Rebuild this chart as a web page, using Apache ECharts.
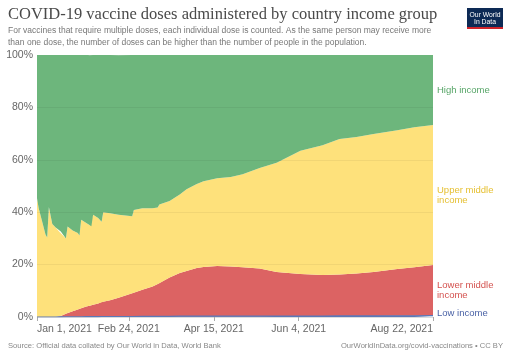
<!DOCTYPE html>
<html><head><meta charset="utf-8">
<script src="https://cdn.jsdelivr.net/npm/echarts@6/dist/echarts.min.js"></script>
<style>html,body{margin:0;padding:0;background:#fff}#c{width:512px;height:361px}</style>
</head><body><div id="c"></div>
<script>
// Sample dates
const dates = ['2021-01-01','2021-01-02','2021-01-06','2021-01-07','2021-01-08','2021-01-10','2021-01-12','2021-01-14','2021-01-15','2021-01-18','2021-01-19','2021-01-22','2021-01-25','2021-01-26','2021-01-27','2021-01-30','2021-02-01','2021-02-02','2021-02-03','2021-02-06','2021-02-08','2021-02-09','2021-02-13','2021-02-18','2021-02-26','2021-02-27','2021-03-04','2021-03-10','2021-03-13','2021-03-14','2021-03-20','2021-03-26','2021-03-30','2021-04-05','2021-04-09','2021-04-17','2021-04-25','2021-05-02','2021-05-12','2021-05-22','2021-06-05','2021-06-18','2021-06-28','2021-07-08','2021-07-18','2021-08-01','2021-08-11','2021-08-22'];
// Shares of doses administered (%)
const lowIncome = [0,0,0,0,0,0,0,0.05,0.05,0.1,0.1,0.1,0.1,0.1,0.1,0.15,0.15,0.15,0.15,0.15,0.2,0.2,0.2,0.2,0.2,0.2,0.25,0.25,0.25,0.25,0.25,0.3,0.3,0.3,0.3,0.3,0.3,0.3,0.3,0.35,0.35,0.35,0.4,0.4,0.4,0.45,0.45,0.5];
const lowerMiddle = [0,0,0,0,0,0,0,0,0.3,1.1,1.4,2.1,2.8,3.0,3.2,3.85,4.15,4.35,4.55,5.05,5.5,5.6,6.2,7.1,8.9,9.1,10.15,11.35,12.35,12.65,14.8,16.5,17.3,18.4,18.8,19.2,19.0,18.7,18.2,16.85,16.05,15.65,15.8,16.2,16.8,17.85,18.55,19.3];
const upperMiddle = [45.3,41.5,31.5,30.3,42,35.5,34.2,32.55,32.3,28.8,33,30.8,29.2,28.0,33.8,31.85,30.7,30.1,34.3,32.55,30.7,34.2,33.2,31.7,29.4,31.5,31.1,29.9,29.2,30.05,29.2,30.0,31.2,32.1,32.7,33.5,34.1,35.5,38.4,41.7,47.1,49.6,51.7,52.1,52.6,53.0,53.4,53.5];
const highIncome = [54.7,58.5,68.5,69.7,58,64.5,65.8,67.4,67.35,70,65.5,67,67.9,68.9,62.9,64.2,64.95,65.4,61,62.25,63.6,60,60.4,60.9,61.5,59.2,58.5,58.5,58.2,57,55.75,53.2,51.2,49.2,48.2,47,46.6,45.5,43.1,41.1,36.5,34.4,32.1,31.3,30.2,28.7,27.6,26.7];
const seriesNames = ['Low income','Lower middle income','Upper middle income','High income'];
const bandLabels = [['Low income'],['Lower middle','income'],['Upper middle','income'],['High income']];
const tickDates = ['2021-01-01','2021-02-24','2021-04-15','2021-06-04','2021-08-22'];
const tickLabels = ['Jan 1, 2021','Feb 24, 2021','Apr 15, 2021','Jun 4, 2021','Aug 22, 2021'];
const gridValues = [20,40,60,80];

const fillColors = ['#5b78b8','#dc6363','#fee17b','#6db67c'];
const textColors = ['#4a62a6','#d4524f','#e6c032','#56a567'];

const dayOf = s => (Date.UTC(+s.slice(0,4), +s.slice(5,7)-1, +s.slice(8,10)) - Date.UTC(2021,0,1)) / 86400000;
const xs = dates.map(dayOf);
const tickDays = tickDates.map(dayOf);
const allVals = [lowIncome, lowerMiddle, upperMiddle, highIncome];

const chart = echarts.init(document.getElementById('c'), null, {renderer:'canvas'});
const F = 'Arial, "Liberation Sans", Helvetica, sans-serif';
chart.setOption({
  animation:false,
  grid:{left:37,right:79,top:55,bottom:44},
  xAxis:{type:'value',min:tickDays[0],max:tickDays[tickDays.length-1],
    axisLine:{show:false},
    splitLine:{show:false},
    axisTick:{show:true,customValues:tickDays,length:4,lineStyle:{color:'#aaa'}},
    axisLabel:{customValues:tickDays,color:'#666',fontSize:10.5,fontFamily:F,margin:7,
      alignMinLabel:'left',alignMaxLabel:'right',
      formatter:v=>{const i=tickDays.indexOf(v);return i>=0?tickLabels[i]:'';}}},
  yAxis:{type:'value',min:0,max:100,interval:20,
    axisLine:{show:false},axisTick:{show:false},
    splitLine:{lineStyle:{color:'#dcdcdc'}},
    axisLabel:{formatter:'{value}%',color:'#666',fontSize:10.5,fontFamily:F,margin:4}},
  series: allVals.map((vals,i)=>({
    name:seriesNames[i],type:'line',stack:'total',showSymbol:false,
    encode:{x:1,y:0},
    lineStyle:{width:i===0?1.2:0,color:fillColors[i]},
    areaStyle:{color:fillColors[i],opacity:1},
    data: xs.map((x,k)=>[vals[k],x]),
    markLine: i===3 ? {silent:true,symbol:'none',label:{show:false},
      lineStyle:{color:'rgba(0,0,0,0.05)',type:'solid',width:1},
      data:gridValues.map(v=>({yAxis:v}))} : undefined
  }))
});

// band labels at the right, centred on each band's last value
const last = xs.length-1;
let cum = 0;
const gfx = [];
const mids = allVals.map(v=>{const m = cum + v[last]/2; cum += v[last]; return m;});
const xEnd = chart.convertToPixel({gridIndex:0},[xs[last],0])[0];
const ys = mids.map(m=>chart.convertToPixel({gridIndex:0},[xs[last],m])[1]);
ys[0] = ys[0]-3;
bandLabels.forEach((lines,i)=>{
  gfx.push({type:'text',x:xEnd+4,y:ys[i]-lines.length*10/2,
    style:{text:lines.join('\n'),fill:textColors[i],font:'9.5px '+F,lineHeight:10}});
});
// title, subtitle, logo, footer
gfx.push({type:'text',x:8,y:6,style:{text:'COVID-19 vaccine doses administered by country income group',fill:'#4a4a4a',font:'16.5px "Liberation Serif", Georgia, serif'}});
gfx.push({type:'text',x:8,y:25,style:{text:'For vaccines that require multiple doses, each individual dose is counted. As the same person may receive more\nthan one dose, the number of doses can be higher than the number of people in the population.',fill:'#777',font:'8.5px '+F,lineHeight:12}});
gfx.push({type:'rect',shape:{x:467,y:8,width:36,height:21},style:{fill:'#0d2a55'}});
gfx.push({type:'rect',shape:{x:467,y:27,width:36,height:2},style:{fill:'#d0242a'}});
gfx.push({type:'text',x:485,y:11,style:{text:'Our World\nIn Data',fill:'#fff',font:'6.8px '+F,lineHeight:7.5,align:'center'}});
gfx.push({type:'text',x:8,y:342,style:{text:'Source: Official data collated by Our World in Data, World Bank',fill:'#888',font:'7.6px '+F}});
gfx.push({type:'text',x:503,y:342,style:{text:'OurWorldInData.org/covid-vaccinations • CC BY',fill:'#888',font:'7.6px '+F,align:'right'}});
chart.setOption({graphic:gfx});
</script></body></html>
